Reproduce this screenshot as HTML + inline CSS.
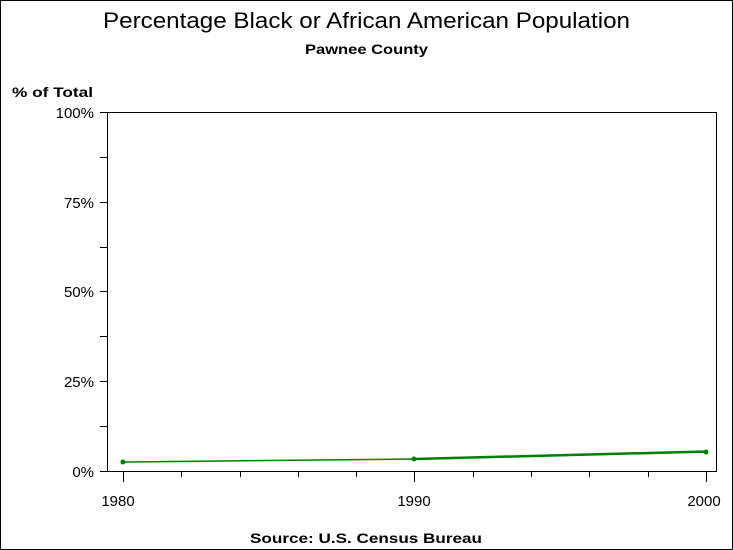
<!DOCTYPE html>
<html><head><style>body{margin:0;background:#fff}svg{display:block}</style></head><body>
<svg width="733" height="550" xmlns="http://www.w3.org/2000/svg" font-family="Liberation Sans, Arial, sans-serif">
<rect x="0.5" y="0.5" width="732" height="549" fill="#fff" stroke="#000"/>
<text x="103" y="28" font-size="22" textLength="527" lengthAdjust="spacingAndGlyphs">Percentage Black or African American Population</text>
<text x="305" y="54" font-size="14" font-weight="bold" textLength="123" lengthAdjust="spacingAndGlyphs">Pawnee County</text>
<text x="12" y="97" font-size="14" font-weight="bold" textLength="81" lengthAdjust="spacingAndGlyphs">% of Total</text>
<rect x="107.5" y="112.5" width="609" height="359" fill="none" stroke="#000"/>
<g stroke="#000">
<line x1="100" y1="112.5" x2="107" y2="112.5"/><line x1="100" y1="157.5" x2="107" y2="157.5"/>
<line x1="100" y1="202.5" x2="107" y2="202.5"/><line x1="100" y1="247.5" x2="107" y2="247.5"/>
<line x1="100" y1="291.5" x2="107" y2="291.5"/><line x1="100" y1="336.5" x2="107" y2="336.5"/>
<line x1="100" y1="381.5" x2="107" y2="381.5"/><line x1="100" y1="426.5" x2="107" y2="426.5"/>
<line x1="100" y1="471.5" x2="107" y2="471.5"/>
<line x1="123.5" y1="472" x2="123.5" y2="482"/><line x1="414.5" y1="472" x2="414.5" y2="482"/><line x1="706.5" y1="472" x2="706.5" y2="482"/>
<line x1="181.5" y1="472" x2="181.5" y2="477"/><line x1="240.5" y1="472" x2="240.5" y2="477"/><line x1="298.5" y1="472" x2="298.5" y2="477"/><line x1="356.5" y1="472" x2="356.5" y2="477"/>
<line x1="473.5" y1="472" x2="473.5" y2="477"/><line x1="531.5" y1="472" x2="531.5" y2="477"/><line x1="589.5" y1="472" x2="589.5" y2="477"/><line x1="648.5" y1="472" x2="648.5" y2="477"/>
</g>
<g font-size="15" text-anchor="end">
<text x="94" y="118">100%</text><text x="94" y="208">75%</text><text x="94" y="297">50%</text><text x="94" y="387">25%</text><text x="94" y="477">0%</text>
</g>
<g font-size="15" text-anchor="middle">
<text x="118" y="506">1980</text><text x="414" y="506">1990</text><text x="704" y="506">2000</text>
</g>
<polyline points="123,462 414,459 706,452" fill="none" stroke="#008000" stroke-width="1.5"/>
<polyline points="414,459 706,451.5" fill="none" stroke="#008000" stroke-width="2.5"/>
<g fill="#008000"><circle cx="123" cy="462" r="2.5"/><circle cx="414" cy="459" r="2.5"/><circle cx="706" cy="452" r="2.5"/></g>
<text x="250" y="543" font-size="14" font-weight="bold" textLength="232" lengthAdjust="spacingAndGlyphs">Source: U.S. Census Bureau</text>
</svg>
</body></html>
